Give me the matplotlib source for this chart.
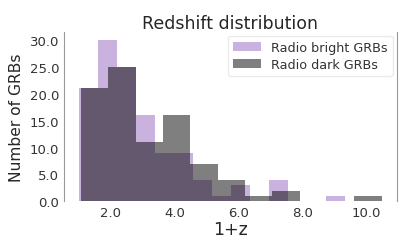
import numpy as np
import matplotlib
matplotlib.use("Agg")
import matplotlib.pyplot as plt
from matplotlib.ticker import FormatStrFormatter

# histogram counts (1+z bins)
bright_counts = [21, 30, 25, 16, 9, 9, 4, 1, 3, 0, 4, 0, 0, 1]
bright_range = (1.02, 9.32)
dark_counts = [21, 25, 11, 16, 7, 4, 1, 2, 0, 0, 1]
dark_range = (1.08, 10.47)

labels = ["Radio bright GRBs", "Radio dark GRBs"]
colors = ["tab:purple", "black"]

xtick_pos = [2, 4, 6, 8, 10]
ytick_pos = [0, 5, 10, 15, 20, 25, 30]

fig = plt.figure(figsize=(4.07, 2.51), dpi=100)
ax = fig.add_axes([0.157, 0.194, 0.818, 0.675])

for counts, rng, lab, col in zip([bright_counts, dark_counts],
                                 [bright_range, dark_range], labels, colors):
    edges = np.linspace(rng[0], rng[1], len(counts) + 1)
    ax.bar(edges[:-1], counts, width=np.diff(edges), align="edge",
           color=col, alpha=0.5, linewidth=0, label=lab)

ax.set_xticks(xtick_pos)
ax.set_yticks(ytick_pos)
ax.xaxis.set_major_formatter(FormatStrFormatter("%.1f"))
ax.yaxis.set_major_formatter(FormatStrFormatter("%.1f"))
ax.tick_params(length=0, pad=3.3, labelsize=9.5, labelcolor="#333333")

for side in ["top", "bottom"]:
    ax.spines[side].set_visible(False)
for side in ["left", "right"]:
    ax.spines[side].set_color("0.6")
    ax.spines[side].set_linewidth(0.8)

ax.set_title("Redshift distribution", fontsize=12.5, color="#262626", pad=2.5)
ax.set_xlabel("1+z", fontsize=12.5, color="#262626", labelpad=1)
ax.set_ylabel("Number of GRBs", fontsize=11.2, color="#262626", labelpad=4)

leg = ax.legend(loc="upper right", fontsize=9.2, frameon=True,
                handlelength=2.2, borderpad=0.4, labelspacing=0.3,
                borderaxespad=0.3)
leg.get_frame().set_edgecolor("0.9")
for t in leg.get_texts():
    t.set_color("#333333")

fig.savefig("out.png", dpi=100)
